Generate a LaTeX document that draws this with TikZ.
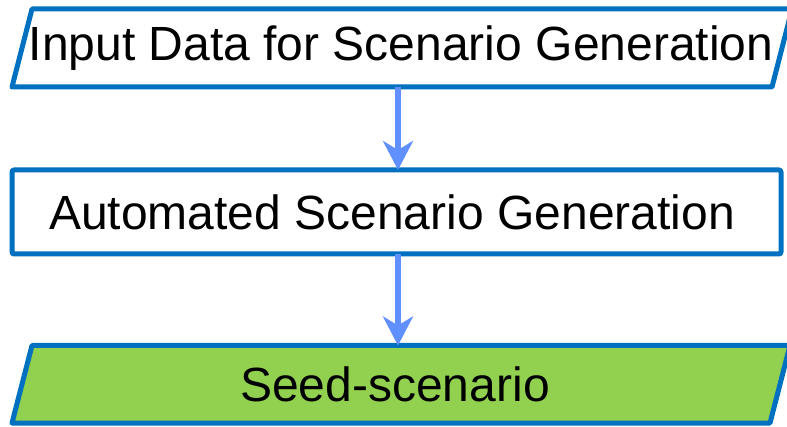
\documentclass[tikz,border=0pt]{standalone}
\usepackage{fontspec}
\setmainfont{Liberation Sans}
\usetikzlibrary{arrows.meta}
\definecolor{edgeblue}{RGB}{0,112,192}
\definecolor{flowblue}{RGB}{96,144,255}
\definecolor{seedgreen}{RGB}{146,208,80}
\tikzset{
  boxline/.style={draw=edgeblue, line width=5pt, line join=round},
  label/.style={font=\fontsize{48pt}{52pt}\selectfont, text=black, inner sep=0pt},
  flow/.style={draw=flowblue, line width=5.5pt,
    -{Stealth[length=29pt, width=30pt, inset=9pt]}}
}
\begin{document}
\begin{tikzpicture}[x=1pt, y=-1pt]
\useasboundingbox (0,0) rectangle (787,427);
% input data (parallelogram)
\draw[boxline, fill=white] (32,9) -- (792,9) -- (772,87) -- (12,87) -- cycle;
\node[label] (input) at (401,48) {Input Data for Scenario Generation};
\coordinate (inputBottom) at (398,87);
% automated generation (process box)
\draw[boxline, fill=white, rounded corners=2pt] (12,170) rectangle (781,254);
\node[label] (auto) at (392,212) {Automated Scenario Generation};
\coordinate (autoTop) at (398,170);
\coordinate (autoBottom) at (398,254);
% seed scenario (parallelogram)
\draw[boxline, fill=seedgreen] (32,345.5) -- (790,345.5) -- (770,423) -- (12,423) -- cycle;
\node[label] (seed) at (395,384) {Seed-scenario};
\coordinate (seedTop) at (398,345.5);
% connectors
\draw[flow] (inputBottom) -- (autoTop);
\draw[flow] (autoBottom) -- (seedTop);
\end{tikzpicture}
\end{document}
